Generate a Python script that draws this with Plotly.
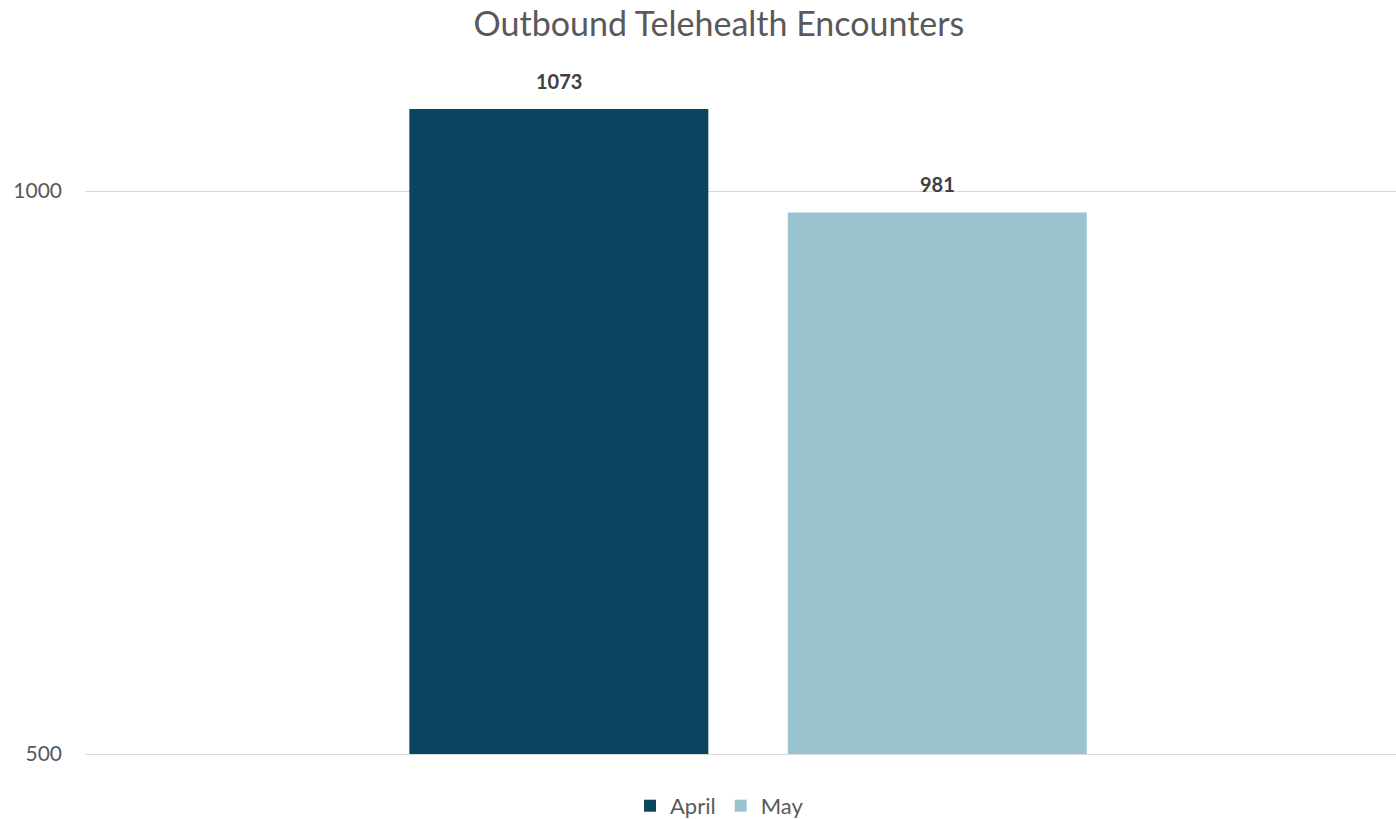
import plotly.graph_objects as go

# Monthly outbound telehealth encounter counts
months = ["April", "May"]
encounters = [1073, 981]
colors = ["#0B4560", "#9AC3D0"]
positions = [0, 1]

FONT = "Lato"
TEXT_GREY = "#595959"
GRID = "#D9D9D9"

fig = go.Figure()
for pos, month, val, col in zip(positions, months, encounters, colors):
    fig.add_trace(go.Bar(
        x=[pos], y=[val], name=month,
        marker=dict(color=col, line=dict(width=0)),
        width=0.79, hoverinfo="y+name",
    ))
    fig.add_annotation(
        x=pos, y=val, text=f"<b>{val}</b>", showarrow=False,
        xref="x", yref="y", yanchor="bottom", yshift=14,
        font=dict(family=FONT, size=20, color="#404040"),
    )

fig.update_layout(
    width=1396, height=819,
    paper_bgcolor="white", plot_bgcolor="white",
    margin=dict(l=85, r=0, t=56, b=65, autoexpand=False),
    title=dict(text="Outbound Telehealth Encounters", x=0.515, xanchor="center",
               y=0.97, yanchor="middle",
               font=dict(family=FONT, size=34, color=TEXT_GREY)),
    barmode="overlay",
    showlegend=True,
    legend=dict(orientation="h", x=0.484, xanchor="center",
                yref="container", y=0.016, yanchor="middle",
                font=dict(family=FONT, size=22, color=TEXT_GREY),
                traceorder="normal", itemwidth=30),
    xaxis=dict(range=[-1.252, 2.212], showticklabels=False, showgrid=False,
               zeroline=False, showline=True, linecolor=GRID, linewidth=1.3),
    yaxis=dict(range=[500, 1120], tickvals=[500, 1000], ticktext=["500", "1000"],
               showgrid=True, gridcolor=GRID, gridwidth=1.3, zeroline=False,
               showline=False, ticks="", ticklabelstandoff=22,
               tickfont=dict(family=FONT, size=21, color=TEXT_GREY)),
)

fig.write_html("out.html")
